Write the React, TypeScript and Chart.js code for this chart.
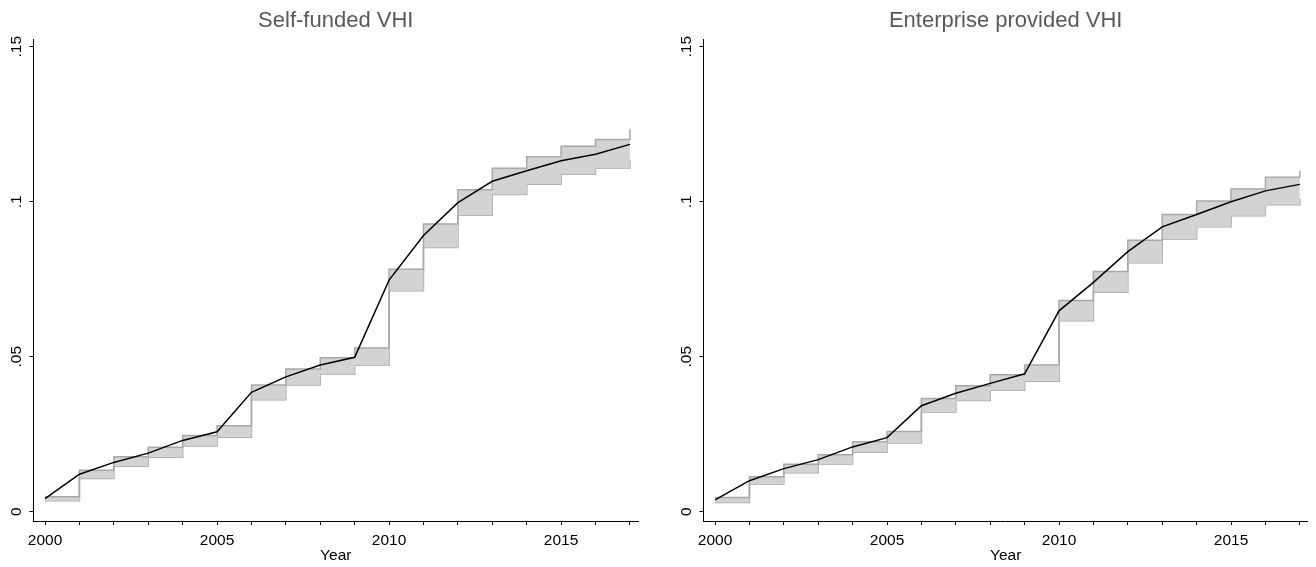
import React, { useEffect, useRef } from 'react';
import { Chart, registerables } from 'chart.js';

Chart.register(...registerables);

const years = [2000, 2001, 2002, 2003, 2004, 2005, 2006, 2007, 2008, 2009, 2010, 2011, 2012, 2013, 2014, 2015, 2016, 2017];

const selfPoint = [0.0042, 0.0121, 0.0159, 0.0189, 0.0230, 0.0258, 0.0385, 0.0435, 0.0473, 0.0498, 0.0747, 0.0891, 0.0997, 0.1066, 0.1100, 0.1132, 0.1153, 0.1185];
const selfLower = [0.0035, 0.0107, 0.0147, 0.0176, 0.0212, 0.0240, 0.0361, 0.0409, 0.0444, 0.0473, 0.0713, 0.0852, 0.0956, 0.1023, 0.1056, 0.1089, 0.1109, 0.1135];
const selfUpper = [0.0048, 0.0134, 0.0177, 0.0208, 0.0246, 0.0277, 0.0409, 0.0460, 0.0497, 0.0528, 0.0782, 0.0928, 0.1039, 0.1108, 0.1145, 0.1179, 0.1201, 0.1234];

const entPoint = [0.0038, 0.0100, 0.0139, 0.0168, 0.0209, 0.0239, 0.0342, 0.0382, 0.0414, 0.0445, 0.0648, 0.0740, 0.0839, 0.0919, 0.0959, 0.1000, 0.1035, 0.1056];
const entLower = [0.0030, 0.0089, 0.0126, 0.0154, 0.0192, 0.0222, 0.0322, 0.0359, 0.0392, 0.0421, 0.0616, 0.0708, 0.0803, 0.0880, 0.0919, 0.0955, 0.0990, 0.1010];
const entUpper = [0.0046, 0.0113, 0.0153, 0.0184, 0.0226, 0.0259, 0.0365, 0.0406, 0.0442, 0.0473, 0.0681, 0.0775, 0.0876, 0.0959, 0.1002, 0.1041, 0.1079, 0.1100];

const yTicks = [0, 0.05, 0.1, 0.15];
const xLabelYears = [2000, 2005, 2010, 2015];
const titles = ['Self-funded VHI', 'Enterprise provided VHI'];
const xTitle = 'Year';

const FONT = '"Liberation Sans", Arial, Helvetica, sans-serif';

function fmtY(v: number): string {
  if (v === 0) return '0';
  return String(Math.round(v * 100) / 100).replace(/^0/, '');
}

const titlePlugin = {
  id: 'panelTitle',
  afterDraw(chart: any, _args: any, opts: any) {
    const { ctx, chartArea } = chart;
    ctx.save();
    ctx.font = `22px ${FONT}`;
    ctx.fillStyle = '#595959';
    ctx.textAlign = 'center';
    ctx.textBaseline = 'middle';
    ctx.fillText(opts.text, (chartArea.left + chartArea.right) / 2, 20.5);
    ctx.restore();
  },
};

type PanelProps = {
  title: string;
  point: number[];
  lower: number[];
  upper: number[];
  padLeft: number;
  padRight: number;
  left: number;
};

function Panel({ title, point, lower, upper, padLeft, padRight, left }: PanelProps) {
  const ref = useRef<HTMLCanvasElement | null>(null);
  useEffect(() => {
    if (!ref.current) return;
    const toXY = (arr: number[]) => years.map((x, i) => ({ x, y: arr[i] }));
    const chart = new Chart(ref.current, {
      type: 'line',
      data: {
        datasets: [
          {
            data: toXY(point),
            borderColor: '#000000',
            borderWidth: 1.5,
            pointRadius: 0,
            fill: false,
            tension: 0,
          },
          {
            data: toXY(upper),
            borderColor: '#a8a8a8',
            borderWidth: 1.5,
            pointRadius: 0,
            stepped: 'before',
            fill: '+1',
            backgroundColor: '#d2d4d4',
          },
          {
            data: toXY(lower),
            borderColor: '#a8a8a8',
            borderWidth: 1.5,
            pointRadius: 0,
            stepped: 'before',
            fill: false,
          },
        ],
      },
      options: {
        animation: false,
        responsive: false,
        devicePixelRatio: 1,
        layout: { padding: { left: padLeft, right: padRight, top: 39.3, bottom: 0 } },
        plugins: {
          legend: { display: false },
          tooltip: { enabled: false },
          // @ts-ignore
          panelTitle: { text: title },
        },
        scales: {
          x: {
            type: 'linear',
            min: 1999.665,
            max: 2017.235,
            afterBuildTicks: (s: any) => {
              s.ticks = years.map((v) => ({ value: v }));
            },
            afterFit: (s: any) => {
              s.height = 46;
            },
            grid: { drawOnChartArea: false, drawTicks: true, tickLength: 4, color: '#000', lineWidth: 1 },
            border: { display: true, color: '#000', width: 1 },
            ticks: {
              autoSkip: false,
              maxRotation: 0,
              minRotation: 0,
              padding: 6,
              color: '#000',
              font: { family: FONT, size: 15.5 },
              callback: (v: any) => (xLabelYears.includes(Number(v)) ? String(v) : ''),
            },
            title: {
              display: true,
              text: xTitle,
              color: '#000',
              font: { family: FONT, size: 15.5 },
              padding: { top: 0, bottom: 2 },
            },
          },
          y: {
            type: 'linear',
            min: -0.003,
            max: 0.1524,
            afterBuildTicks: (s: any) => {
              s.ticks = yTicks.map((v) => ({ value: v }));
            },
            afterFit: (s: any) => {
              s.width = 30;
            },
            grid: { drawOnChartArea: false, drawTicks: true, tickLength: 4, color: '#000', lineWidth: 1 },
            border: { display: true, color: '#000', width: 1 },
            ticks: {
              minRotation: 90,
              maxRotation: 90,
              crossAlign: 'center',
              padding: 2,
              color: '#000',
              font: { family: FONT, size: 15.5 },
              callback: (v: any) => fmtY(Number(v)),
            },
          },
        },
      },
      plugins: [titlePlugin],
    } as any);
    return () => chart.destroy();
  }, [title, point, lower, upper, padLeft, padRight]);
  return (
    <canvas
      ref={ref}
      width={658}
      height={567}
      style={{ position: 'absolute', left, top: 0, width: 658, height: 567 }}
    />
  );
}

export default function App() {
  return (
    <div style={{ position: 'fixed', left: 0, top: 0, width: 1316, height: 567, background: '#fff' }}>
      <Panel title={titles[0]} point={selfPoint} lower={selfLower} upper={selfUpper} padLeft={3.5} padRight={20} left={0} />
      <Panel title={titles[1]} point={entPoint} lower={entLower} upper={entUpper} padLeft={15.5} padRight={8.1} left={658} />
    </div>
  );
}
